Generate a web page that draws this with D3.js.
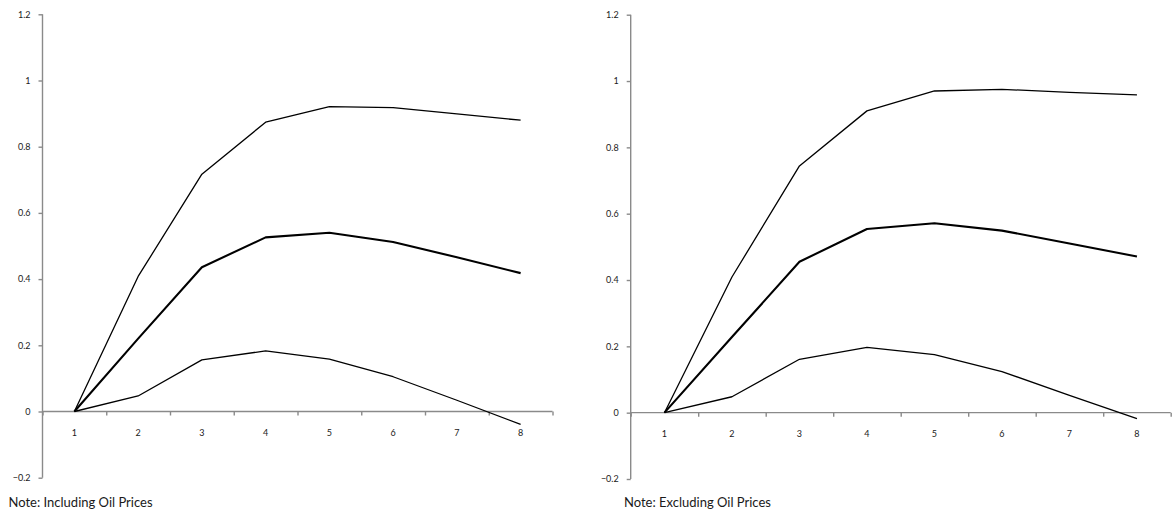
<!DOCTYPE html>
<html>
<head>
<meta charset="utf-8">
<script src="https://cdn.jsdelivr.net/npm/d3@7"></script>
<style>
  html, body { margin: 0; padding: 0; background: #fff; }
  svg { display: block; }
  .tick text { font-family: Lato, "Liberation Sans", Arial, sans-serif; font-size: 9px; fill: #1a1a1a; }
  .note { font-family: Lato, "Liberation Sans", Arial, sans-serif; font-size: 13px; fill: #1a1a1a; }
</style>
</head>
<body>
<svg id="chart" width="1172" height="515"></svg>
<script>
// Horizon (quarters) shared by both panels
const horizons = [1, 2, 3, 4, 5, 6, 7, 8];
const yTicks = [-0.2, 0, 0.2, 0.4, 0.6, 0.8, 1, 1.2];

// Panel 1: including oil prices
const inclUpper  = [0, 0.408, 0.717, 0.874, 0.921, 0.918, 0.899, 0.880];
const inclMiddle = [0, 0.220, 0.436, 0.526, 0.540, 0.512, 0.466, 0.418];
const inclLower  = [0, 0.047, 0.156, 0.183, 0.158, 0.105, 0.034, -0.039];

// Panel 2: excluding oil prices
const exclUpper  = [0, 0.409, 0.744, 0.910, 0.970, 0.975, 0.966, 0.958];
const exclMiddle = [0, 0.228, 0.455, 0.554, 0.571, 0.549, 0.510, 0.471];
const exclLower  = [0, 0.048, 0.161, 0.197, 0.175, 0.124, 0.052, -0.018];

const notes = ["Note: Including Oil Prices", "Note: Excluding Oil Prices"];

const panels = [
  { x0: 42.5, x1: 552.5, yTop: 14.3, yBot: 477.7, noteX: 8.5,
    series: [inclUpper, inclMiddle, inclLower], note: notes[0] },
  { x0: 630.7, x1: 1170.7, yTop: 14.7, yBot: 479.0, noteX: 624,
    series: [exclUpper, exclMiddle, exclLower], note: notes[1] }
];

const svg = d3.select("#chart");
const axisColor = "#8a8a8a";
const widths = [1.3, 2.1, 1.3];

panels.forEach(p => {
  const g = svg.append("g");

  const x = d3.scaleBand().domain(horizons).range([p.x0, p.x1]);
  const xEdge = d3.scaleLinear().domain([0, horizons.length]).range([p.x0, p.x1]);
  const y = d3.scaleLinear().domain([-0.2, 1.2]).range([p.yBot, p.yTop]);
  const cx = d => x(d) + x.bandwidth() / 2;

  // Value axis
  const yAxis = g.append("g")
    .attr("transform", `translate(${p.x0},0)`)
    .call(d3.axisLeft(y).tickValues(yTicks).tickSize(4).tickPadding(8)
      .tickFormat(d => d3.format("")(+d.toFixed(1))));
  yAxis.select(".domain").attr("d", `M0,${p.yTop}V${p.yBot}`);

  // Category axis at zero, tick marks between categories
  const xAxis = g.append("g")
    .attr("transform", `translate(0,${y(0)})`)
    .call(d3.axisBottom(xEdge).tickValues(d3.range(0, horizons.length + 1))
      .tickSize(4).tickFormat(""));
  xAxis.select(".domain").attr("d", `M${p.x0},0H${p.x1}`);

  g.selectAll(".domain, .tick line")
    .attr("stroke", axisColor).attr("stroke-width", 1.4);

  // Category labels
  g.append("g").selectAll("text")
    .data(horizons)
    .join("text")
    .attr("x", d => cx(d))
    .attr("y", y(0) + 24)
    .attr("text-anchor", "middle")
    .style("font-family", "Lato, 'Liberation Sans', Arial, sans-serif")
    .style("font-size", "9px")
    .style("fill", "#1a1a1a")
    .text(d => d);

  // Response lines
  const line = d3.line().x((d, i) => cx(horizons[i])).y(d => y(d));
  p.series.forEach((s, k) => {
    g.append("path")
      .datum(s)
      .attr("fill", "none")
      .attr("stroke", "#000")
      .attr("stroke-width", widths[k])
      .attr("stroke-linejoin", "round")
      .attr("d", line);
  });

  g.append("text")
    .attr("class", "note")
    .attr("x", p.noteX)
    .attr("y", 507)
    .text(p.note);
});
</script>
</body>
</html>
